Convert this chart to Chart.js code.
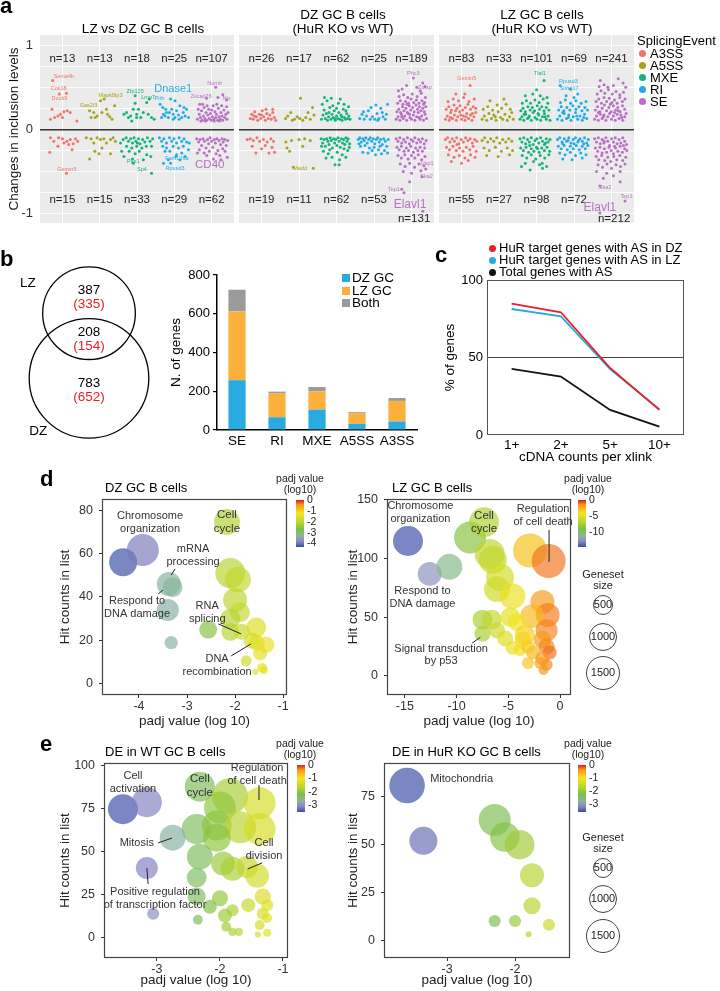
<!DOCTYPE html>
<html>
<head>
<meta charset="utf-8">
<title>HuR splicing figure</title>
<script src="https://cdn.jsdelivr.net/npm/chart.js@4.4.1/dist/chart.umd.min.js"></script>
<style>
  html, body { margin: 0; padding: 0; background: #fff; }
  body { position: relative; width: 720px; height: 991px; overflow: hidden;
         font-family: "Liberation Sans", Arial, Helvetica, sans-serif; color: #000; }
  canvas { position: absolute; }
  .t { position: absolute; white-space: nowrap; line-height: 1.08; text-align: center; }
</style>
</head>
<body>
<script>
/* global Chart */
const FONT = '"Liberation Sans", Arial, Helvetica, sans-serif';

// ---- panel a: splicing events ----
const events = ['A3SS', 'A5SS', 'MXE', 'RI', 'SE'];
const eventColors = ['#F0736B', '#A3A41A', '#13B47A', '#20ADE6', '#B86FC4'];
const aYTicks = [-1, 0, 1];

const lzdzUp = [13, 13, 18, 25, 107];
const lzdzDown = [15, 15, 33, 29, 62];
const dzKoUp = [26, 17, 62, 25, 189];
const dzKoDown = [19, 11, 62, 53, 131];
const lzKoUp = [83, 33, 101, 69, 241];
const lzKoDown = [55, 27, 98, 72, 212];

// [offset inside category, change in inclusion level]
const lzdzPts = [
  [[-0.26,0.58],[-0.08,0.42],[0.11,0.43],[-0.32,0.12],[-0.21,0.14],[-0.12,0.16],[-0.05,0.18],[0.04,0.21],[0.13,0.22],[0.21,0.2],[0.39,0.1],[-0.28,0.24],[0,0.14],
   [-0.32,-0.1],[-0.1,-0.1],[0,-0.11],[0.12,-0.14],[0.21,-0.12],[0.29,-0.17],[0.35,-0.11],[0.41,-0.14],[-0.12,-0.2],[0.17,-0.18],[0.26,-0.24],[-0.34,-0.27],[0.11,-0.52],[0.04,-0.16],[-0.23,-0.14]],
  [[-0.27,0.22],[-0.23,0.14],[-0.12,0.14],[0.02,0.34],[0.12,0.36],[0.18,0.24],[0.21,0.18],[0.27,0.15],[0.4,0.28],[-0.07,0.16],[0.06,0.2],[-0.16,0.2],[0.33,0.12],
   [-0.36,-0.1],[-0.23,-0.11],[-0.07,-0.1],[0.02,-0.12],[0.11,-0.11],[0.29,-0.12],[0.36,-0.1],[-0.13,-0.26],[-0.02,-0.29],[-0.27,-0.35],[0.29,-0.29],[0.06,-0.22],[0.18,-0.16],[-0.16,-0.16],[0.42,-0.14]],
  [[-0.35,0.18],[-0.28,0.2],[-0.17,0.16],[-0.1,0.24],[-0.05,0.4],[-0.05,0.31],[-0.01,0.18],[-0.01,0.14],[0.1,0.14],[0.26,0.32],[0.3,0.18],[0.39,0.14],[0.46,0.12],[-0.23,0.14],[0.17,0.2],[0.04,0.24],[-0.14,0.1],[0.33,0.36],
   [-0.37,-0.12],[-0.29,-0.1],[-0.23,-0.14],[-0.17,-0.11],[-0.12,-0.16],[-0.08,-0.1],[-0.03,-0.14],[0.04,-0.11],[0.08,-0.17],[0.15,-0.12],[0.21,-0.15],[0.28,-0.1],[0.35,-0.14],[0.42,-0.11],
   [-0.28,-0.2],[-0.14,-0.22],[-0.01,-0.2],[0.13,-0.22],[0.25,-0.2],[0.39,-0.2],[-0.21,-0.26],[-0.05,-0.29],[0.06,-0.26],[0.26,-0.3],[-0.35,-0.32],[-0.12,-0.35],[0.17,-0.36],[0.37,-0.32],
   [0.01,-0.16],[-0.44,-0.16],[0.39,-0.52],[-0.1,-0.4],[-0.41,-0.26]],
  [[-0.38,0.3],[-0.31,0.26],[-0.25,0.16],[-0.21,0.2],[-0.16,0.14],[-0.1,0.36],[-0.07,0.24],[-0.03,0.18],[0.02,0.14],[0.06,0.22],[0.11,0.17],[0.15,0.28],[0.2,0.14],[0.24,0.2],[0.29,0.16],[0.33,0.24],[0.38,0.14],[-0.34,0.14],[-0.23,0.24],[-0.13,0.2],[0.13,0.12],[0.26,0.26],[-0.03,0.12],[-0.29,0.18],[0.02,0.34],
   [-0.4,-0.1],[-0.34,-0.14],[-0.28,-0.11],[-0.21,-0.16],[-0.13,-0.1],[-0.07,-0.14],[-0.01,-0.11],[0.06,-0.16],[0.13,-0.1],[0.2,-0.14],[0.26,-0.11],[0.33,-0.15],[0.4,-0.16],[-0.31,-0.2],[-0.21,-0.22],[-0.03,-0.2],[0.11,-0.22],[0.24,-0.2],
   [-0.25,-0.26],[-0.12,-0.26],[0.06,-0.3],[0.2,-0.28],[-0.29,-0.4],[-0.1,-0.4],[0.04,-0.32],[0.29,-0.32],[0.15,-0.36],[-0.16,-0.36],[0.38,-0.24]],
  [[-0.38,0.12],[-0.33,0.18],[-0.3,0.14],[-0.27,0.22],[-0.25,0.11],[-0.22,0.16],[-0.2,0.26],[-0.18,0.13],[-0.15,0.2],[-0.13,0.11],[-0.1,0.17],[-0.08,0.24],[-0.06,0.13],[-0.03,0.19],[-0.01,0.11],[0.02,0.15],[0.04,0.28],[0.06,0.12],
   [0.09,0.21],[0.11,0.14],[0.13,0.18],[0.16,0.11],[0.18,0.25],[0.2,0.15],[0.23,0.12],[0.25,0.2],[0.28,0.16],[0.3,0.11],[0.33,0.23],[0.35,0.14],[0.38,0.18],[0.41,0.12],[0.44,0.2],[-0.36,0.24],[-0.24,0.3],[-0.12,0.28],
   [0,0.23],[0.14,0.3],[0.27,0.28],[0.4,0.27],[-0.29,0.1],[0.07,0.1],[0.21,0.1],[-0.17,0.1],[0.11,0.5],[0.17,0.38],[0.3,0.41],[0.4,0.35],[-0.14,0.37],[-0.32,0.3],
   [-0.4,-0.11],[-0.35,-0.15],[-0.31,-0.12],[-0.27,-0.19],[-0.23,-0.11],[-0.19,-0.14],[-0.15,-0.22],[-0.11,-0.12],[-0.08,-0.17],[-0.04,-0.1],[0,-0.14],[0.03,-0.21],[0.07,-0.12],[0.1,-0.16],[0.14,-0.11],[0.17,-0.25],[0.2,-0.13],
   [0.24,-0.18],[0.28,-0.11],[0.31,-0.15],[0.35,-0.12],[0.39,-0.19],[0.43,-0.13],[-0.33,-0.24],[-0.2,-0.28],[-0.06,-0.26],[0.12,-0.29],[0.3,-0.23],[-0.13,-0.31],[0.22,-0.31],[0.42,-0.33],[0.36,-0.26],[-0.38,-0.28],[0.05,-0.35],[0.25,-0.36]]
];

const dzKoPts = [
  [[-0.3,0.13],[-0.26,0.18],[-0.22,0.12],[-0.18,0.21],[-0.14,0.15],[-0.1,0.11],[-0.06,0.18],[-0.02,0.13],[0.02,0.22],[0.06,0.15],[0.1,0.11],[0.14,0.19],[0.18,0.13],[0.22,0.17],[0.26,0.12],[0.3,0.2],[0.34,0.14],[0.38,0.11],[-0.2,0.16],[0,0.17],[0.12,0.24],[0.3,0.24],
   [-0.38,-0.12],[-0.3,-0.11],[-0.22,-0.13],[-0.12,-0.1],[-0.05,-0.14],[0.05,-0.12],[0.15,-0.15],[0.25,-0.11],[0.32,-0.14],[-0.25,-0.2],[0.1,-0.19],[0.28,-0.21],[-0.15,-0.28],[0,-0.23],[0.35,-0.27],[0.2,-0.28]],
  [[-0.36,0.13],[-0.3,0.16],[-0.22,0.2],[-0.12,0.12],[-0.05,0.15],[0.04,0.37],[0.02,0.13],[0.1,0.11],[0.18,0.14],[0.24,0.2],[0.3,0.12],[0.36,0.26],[0.4,0.17],[-0.18,0.11],
   [-0.35,-0.15],[-0.32,-0.22],[-0.2,-0.13],[0,-0.12],[0.15,-0.11],[0.3,-0.13],[-0.25,-0.26],[0.1,-0.2],[-0.15,-0.45],[0.38,-0.46]],
  [[-0.4,0.12],[-0.36,0.17],[-0.33,0.23],[-0.3,0.13],[-0.27,0.19],[-0.24,0.11],[-0.21,0.15],[-0.18,0.26],[-0.15,0.12],[-0.12,0.18],[-0.09,0.14],[-0.06,0.22],[-0.03,0.11],[0,0.16],[0.03,0.13],[0.06,0.2],[0.09,0.12],[0.12,0.17],[0.15,0.11],[0.18,0.24],
   [0.21,0.14],[0.24,0.12],[0.27,0.19],[0.3,0.13],[0.33,0.16],[0.36,0.12],[-0.38,0.3],[-0.25,0.34],[-0.1,0.28],[0.05,0.31],[0.2,0.3],[0.32,0.27],[-0.32,0.38],[-0.14,0.37],[0.1,0.36],[-0.2,0.2],[0,0.25],[0.25,0.22],[-0.05,0.13],[0.14,0.15],
   [-0.41,-0.11],[-0.37,-0.16],[-0.33,-0.12],[-0.3,-0.2],[-0.26,-0.11],[-0.23,-0.14],[-0.2,-0.18],[-0.17,-0.1],[-0.14,-0.13],[-0.11,-0.22],[-0.08,-0.11],[-0.05,-0.16],[-0.02,-0.12],[0.01,-0.19],[0.04,-0.1],[0.07,-0.14],[0.1,-0.21],[0.13,-0.11],[0.16,-0.16],[0.19,-0.12],
   [0.22,-0.18],[0.25,-0.1],[0.28,-0.14],[0.31,-0.11],[0.35,-0.17],[-0.35,-0.26],[-0.22,-0.29],[-0.12,-0.33],[0.02,-0.27],[0.15,-0.3],[0.3,-0.25],[-0.28,-0.34],[0.08,-0.36],[0.25,-0.33],[-0.04,-0.42],[0.07,-0.42],[-0.18,-0.24],[0.2,-0.23],[-0.4,-0.2],[0.34,-0.21]],
  [[-0.38,0.13],[-0.32,0.18],[-0.26,0.12],[-0.2,0.16],[-0.15,0.22],[-0.1,0.12],[-0.04,0.15],[0.02,0.12],[0.08,0.19],[0.13,0.13],[0.18,0.25],[0.24,0.15],[0.3,0.12],[0.36,0.3],[0.33,0.18],[-0.08,0.26],[-0.28,0.21],[0.1,0.11],[0.22,0.2],[0.05,0.29],
   [-0.42,-0.12],[-0.38,-0.1],[-0.34,-0.15],[-0.3,-0.11],[-0.26,-0.13],[-0.22,-0.1],[-0.18,-0.16],[-0.14,-0.12],[-0.1,-0.1],[-0.06,-0.14],[-0.02,-0.11],[0.02,-0.17],[0.06,-0.12],[0.1,-0.1],[0.14,-0.15],[0.18,-0.12],[0.22,-0.18],[0.26,-0.11],
   [0.3,-0.14],[0.34,-0.2],[0.38,-0.12],[-0.36,-0.2],[-0.24,-0.19],[-0.12,-0.22],[0,-0.21],[0.12,-0.24],[0.28,-0.25],[-0.3,-0.27],[-0.16,-0.28],[0.04,-0.3],[0.2,-0.29],[0.36,-0.28],[-0.05,-0.25],[0.16,-0.2],[-0.4,-0.17]],
  [[-0.41,0.12],[-0.36,0.15],[-0.31,0.11],[-0.27,0.18],[-0.22,0.13],[-0.18,0.16],[-0.13,0.11],[-0.09,0.19],[-0.04,0.14],[0,0.12],[0.05,0.17],[0.09,0.11],[0.14,0.15],[0.18,0.2],[0.23,0.12],[0.27,0.16],[0.32,0.11],[0.36,0.18],[0.4,0.13],
   [-0.39,0.21],[-0.34,0.24],[-0.29,0.2],[-0.24,0.27],[-0.2,0.22],[-0.15,0.25],[-0.11,0.2],[-0.06,0.28],[-0.02,0.23],[0.03,0.26],[0.07,0.21],[0.12,0.29],[0.16,0.24],[0.21,0.27],[0.25,0.22],[0.3,0.25],[0.34,0.21],[0.38,0.27],
   [-0.37,0.31],[-0.3,0.34],[-0.23,0.3],[-0.16,0.33],[-0.08,0.31],[-0.01,0.36],[0.06,0.32],[0.13,0.35],[0.2,0.31],[0.28,0.34],[0.35,0.32],[-0.33,0.39],[-0.21,0.41],[-0.1,0.38],[0.02,0.42],[0.15,0.39],[0.26,0.43],[0.37,0.38],
   [-0.26,0.15],[-0.05,0.18],[0.2,0.14],[0.32,0.3],[-0.12,0.3],[0.05,0.61],[-0.13,0.52],[0.14,0.5],[0.36,0.51],[0.23,0.46],[-0.35,0.46],[-0.25,0.48],[0.3,0.55],
   [-0.41,-0.11],[-0.36,-0.14],[-0.31,-0.1],[-0.26,-0.16],[-0.21,-0.12],[-0.16,-0.15],[-0.11,-0.1],[-0.06,-0.17],[-0.01,-0.12],[0.04,-0.14],[0.09,-0.1],[0.14,-0.16],[0.19,-0.12],[0.24,-0.15],[0.29,-0.11],[0.34,-0.17],[0.39,-0.13],
   [-0.39,-0.21],[-0.33,-0.24],[-0.27,-0.2],[-0.2,-0.26],[-0.14,-0.22],[-0.08,-0.25],[-0.02,-0.2],[0.05,-0.27],[0.11,-0.22],[0.17,-0.25],[0.23,-0.21],[0.29,-0.26],[0.35,-0.22],
   [-0.36,-0.31],[-0.27,-0.34],[-0.18,-0.3],[-0.09,-0.35],[0,-0.31],[0.09,-0.34],[0.18,-0.3],[0.27,-0.36],[0.36,-0.32],[-0.3,-0.41],[-0.17,-0.44],[-0.05,-0.4],[0.08,-0.45],[0.2,-0.41],[0.33,-0.43],
   [-0.22,-0.5],[0,-0.52],[0.25,-0.49],[0.38,-0.47],[-0.26,-0.71],[-0.2,-0.75],[0.3,-0.97],[-0.05,-0.62],[0.28,-0.56]]
];

const lzKoPts = [
  [[-0.43,0.12],[-0.38,0.16],[-0.33,0.11],[-0.29,0.2],[-0.24,0.13],[-0.19,0.17],[-0.14,0.11],[-0.1,0.15],[-0.05,0.21],[0,0.12],[0.05,0.16],[0.09,0.11],[0.14,0.19],[0.19,0.13],[0.24,0.17],[0.28,0.11],[0.33,0.15],[0.38,0.2],
   [-0.41,0.24],[-0.34,0.27],[-0.27,0.23],[-0.2,0.29],[-0.12,0.25],[-0.04,0.28],[0.03,0.23],[0.1,0.26],[0.17,0.3],[0.24,0.24],[0.31,0.27],[0.38,0.25],[-0.36,0.33],[-0.22,0.36],[-0.08,0.34],[0.06,0.38],[0.2,0.33],[0.34,0.36],
   [-0.3,0.14],[-0.16,0.22],[0.12,0.15],[0.29,0.19],[-0.02,0.17],[0.23,0.52],[0.09,0.42],[-0.15,0.42],
   [-0.43,-0.12],[-0.37,-0.1],[-0.31,-0.15],[-0.25,-0.11],[-0.19,-0.14],[-0.13,-0.1],[-0.07,-0.17],[-0.01,-0.12],[0.05,-0.15],[0.11,-0.1],[0.17,-0.13],[0.23,-0.11],[0.29,-0.16],[0.35,-0.12],[0.41,-0.14],
   [-0.4,-0.21],[-0.32,-0.24],[-0.23,-0.2],[-0.14,-0.25],[-0.05,-0.22],[0.04,-0.26],[0.13,-0.21],[0.22,-0.24],[0.31,-0.2],[0.39,-0.26],[-0.35,-0.3],[-0.2,-0.33],[-0.06,-0.31],[0.09,-0.34],[0.24,-0.3],[0.36,-0.33],
   [-0.27,-0.38],[0,-0.4],[0.18,-0.37],[-0.12,-0.18]],
  [[-0.45,0.12],[-0.39,0.16],[-0.33,0.11],[-0.27,0.19],[-0.2,0.13],[-0.14,0.17],[-0.08,0.11],[-0.02,0.21],[0.04,0.14],[0.1,0.12],[0.16,0.18],[0.22,0.11],[0.28,0.15],[0.34,0.2],[0.38,0.12],
   [-0.42,0.24],[-0.3,0.27],[-0.17,0.23],[-0.05,0.29],[0.07,0.25],[0.19,0.3],[0.3,0.24],[-0.24,0.34],[0.13,0.36],[-0.1,0.15],
   [-0.45,-0.13],[-0.38,-0.1],[-0.3,-0.15],[-0.22,-0.11],[-0.14,-0.14],[-0.06,-0.1],[0.02,-0.16],[0.1,-0.12],[0.18,-0.15],[0.26,-0.11],[0.34,-0.14],
   [-0.4,-0.22],[-0.26,-0.25],[-0.1,-0.21],[0.06,-0.26],[0.22,-0.22],[0.36,-0.25],[-0.33,-0.31],[-0.02,-0.32],[0.28,-0.3]],
  [[-0.44,0.12],[-0.39,0.15],[-0.34,0.11],[-0.29,0.18],[-0.24,0.13],[-0.19,0.16],[-0.14,0.11],[-0.09,0.2],[-0.04,0.14],[0.01,0.12],[0.06,0.17],[0.11,0.11],[0.16,0.15],[0.21,0.19],[0.26,0.12],[0.31,0.16],[0.36,0.11],
   [-0.42,0.22],[-0.36,0.25],[-0.3,0.21],[-0.23,0.27],[-0.17,0.23],[-0.11,0.26],[-0.05,0.22],[0.02,0.28],[0.08,0.24],[0.14,0.27],[0.2,0.22],[0.26,0.26],[0.33,0.23],
   [-0.38,0.31],[-0.27,0.34],[-0.16,0.31],[-0.04,0.35],[0.07,0.32],[0.18,0.36],[0.3,0.31],[-0.3,0.4],[-0.1,0.42],[0.1,0.4],[0.28,0.38],[-0.21,0.14],[0.04,0.19],[0.23,0.15],[-0.33,0.18],[0.2,0.58],[0,0.47],
   [-0.44,-0.11],[-0.39,-0.15],[-0.34,-0.1],[-0.29,-0.17],[-0.24,-0.12],[-0.19,-0.15],[-0.14,-0.1],[-0.09,-0.18],[-0.04,-0.13],[0.01,-0.11],[0.06,-0.16],[0.11,-0.1],[0.16,-0.14],[0.21,-0.18],[0.26,-0.11],[0.31,-0.15],[0.36,-0.12],
   [-0.42,-0.22],[-0.35,-0.25],[-0.28,-0.21],[-0.21,-0.27],[-0.14,-0.23],[-0.07,-0.26],[0,-0.21],[0.07,-0.27],[0.14,-0.22],[0.21,-0.25],[0.28,-0.21],[0.35,-0.26],
   [-0.38,-0.31],[-0.26,-0.34],[-0.14,-0.3],[-0.02,-0.35],[0.1,-0.31],[0.22,-0.34],[0.33,-0.3],[-0.3,-0.4],[-0.08,-0.38],[0.15,-0.4],
   [-0.4,-0.44],[-0.17,-0.48],[0.08,-0.42],[0.16,-0.46],[0.27,-0.44],[-0.18,-0.19],[0.03,-0.23],[0.24,-0.16]],
  [[-0.44,0.12],[-0.38,0.16],[-0.32,0.11],[-0.26,0.19],[-0.2,0.13],[-0.14,0.17],[-0.08,0.11],[-0.02,0.15],[0.04,0.2],[0.1,0.12],[0.16,0.16],[0.22,0.11],[0.28,0.18],[0.34,0.13],
   [-0.41,0.23],[-0.34,0.27],[-0.27,0.22],[-0.19,0.26],[-0.11,0.23],[-0.03,0.28],[0.05,0.24],[0.13,0.27],[0.21,0.22],[0.29,0.26],[0.36,0.23],
   [-0.36,0.32],[-0.23,0.35],[-0.09,0.31],[0.05,0.34],[0.19,0.31],[0.32,0.33],[-0.37,0.52],[-0.1,0.48],[0.1,0.42],[-0.21,0.4],[0,0.38],[-0.15,0.14],[0.07,0.16],[0.26,0.14],[-0.3,0.2],
   [-0.44,-0.12],[-0.38,-0.1],[-0.32,-0.15],[-0.26,-0.11],[-0.2,-0.14],[-0.14,-0.1],[-0.08,-0.16],[-0.02,-0.12],[0.04,-0.1],[0.1,-0.15],[0.16,-0.11],[0.22,-0.14],[0.28,-0.1],[0.34,-0.16],[0.38,-0.12],
   [-0.42,-0.2],[-0.34,-0.23],[-0.26,-0.19],[-0.18,-0.24],[-0.1,-0.2],[-0.02,-0.23],[0.06,-0.19],[0.14,-0.24],[0.22,-0.2],[0.3,-0.23],[0.37,-0.19],
   [-0.38,-0.28],[-0.24,-0.3],[-0.1,-0.27],[0.04,-0.31],[0.18,-0.28],[0.32,-0.3],[-0.3,-0.35],[-0.05,-0.36],[0.22,-0.34],[-0.16,-0.13],[0,-0.17],[0.12,-0.13],[0.26,-0.17],[-0.3,-0.17]],
  [[-0.45,0.12],[-0.4,0.16],[-0.35,0.11],[-0.3,0.18],[-0.25,0.13],[-0.2,0.17],[-0.15,0.11],[-0.1,0.15],[-0.05,0.19],[0,0.12],[0.05,0.16],[0.1,0.11],[0.15,0.18],[0.2,0.13],[0.25,0.17],[0.3,0.11],[0.35,0.15],[0.39,0.19],
   [-0.43,0.23],[-0.37,0.27],[-0.31,0.21],[-0.25,0.25],[-0.19,0.29],[-0.13,0.22],[-0.07,0.26],[-0.01,0.21],[0.05,0.28],[0.11,0.23],[0.17,0.26],[0.23,0.21],[0.29,0.28],[0.35,0.24],
   [-0.41,0.33],[-0.34,0.36],[-0.27,0.31],[-0.2,0.38],[-0.13,0.33],[-0.06,0.37],[0.01,0.32],[0.08,0.35],[0.15,0.31],[0.22,0.38],[0.29,0.33],[0.36,0.36],
   [-0.38,0.42],[-0.28,0.46],[-0.18,0.43],[-0.08,0.47],[0.02,0.42],[0.12,0.45],[0.22,0.41],[0.32,0.44],[-0.33,0.51],[-0.2,0.53],[-0.1,0.5],[0.05,0.52],[0.18,0.6],[0.31,0.55],[0.38,0.5],[-0.3,0.58],
   [-0.22,0.15],[0.08,0.2],[0.27,0.14],[-0.35,0.2],[0.18,0.22],[-0.03,0.3],
   [-0.45,-0.11],[-0.4,-0.15],[-0.35,-0.1],[-0.3,-0.17],[-0.25,-0.12],[-0.2,-0.16],[-0.15,-0.1],[-0.1,-0.14],[-0.05,-0.19],[0,-0.11],[0.05,-0.15],[0.1,-0.1],[0.15,-0.17],[0.2,-0.12],[0.25,-0.16],[0.3,-0.1],[0.35,-0.14],[0.4,-0.18],
   [-0.43,-0.22],[-0.37,-0.26],[-0.31,-0.21],[-0.25,-0.28],[-0.19,-0.23],[-0.13,-0.27],[-0.07,-0.21],[-0.01,-0.25],[0.05,-0.29],[0.11,-0.22],[0.17,-0.26],[0.23,-0.2],[0.29,-0.27],[0.35,-0.23],[0.41,-0.25],
   [-0.41,-0.32],[-0.34,-0.36],[-0.26,-0.31],[-0.18,-0.37],[-0.1,-0.33],[-0.02,-0.38],[0.06,-0.32],[0.14,-0.36],[0.22,-0.31],[0.3,-0.37],[0.38,-0.33],
   [-0.36,-0.42],[-0.24,-0.45],[-0.12,-0.41],[0,-0.46],[0.12,-0.42],[0.24,-0.44],[0.36,-0.41],
   [-0.4,-0.5],[-0.13,-0.52],[0.23,-0.5],[-0.31,-0.67],[0.23,-0.62],[0.36,-0.85],[-0.31,-0.99],[0.05,-0.55],[-0.22,-0.58],[-0.2,-0.14],[0.08,-0.2],[0.32,-0.19]]
];

// gene names written next to points: [name, x, y, event, font size]
const lzdzGenes = [['Sema4b',1.04,0.63,'A3SS'],['Cox18',0.9,0.48,'A3SS'],['Dock9',0.92,0.37,'A3SS'],['Gemin5',1.12,-0.48,'A3SS'],
  ['Gas2l3',1.7,0.28,'A5SS'],['Mapk8ip3',2.29,0.4,'A5SS'],['Zfp125',2.95,0.45,'MXE'],['Lmo7',3.3,0.38,'MXE'],['Pex1',2.9,-0.38,'MXE'],['Sp4',3.13,-0.48,'MXE'],
  ['Pirb',3.6,0.37,'RI'],['Dnase1',3.97,0.48,'RI',11],['Fam126a',4.07,-0.35,'RI'],['Rpusd3',4.02,-0.46,'RI'],
  ['Numb',5.08,0.54,'SE'],['Zscan26',4.72,0.39,'SE'],['Nin',5.4,0.37,'SE'],['CD40',4.95,-0.42,'SE',11.5]];
const dzKoGenes = [['Madd',2.03,-0.46,'A5SS'],['Phc3',5.05,0.66,'SE'],['Zufsp',5.36,0.5,'SE'],['Usp1',5.42,-0.4,'SE'],['Ska2',5.4,-0.56,'SE'],['Tep1',4.53,-0.71,'SE'],['Elavl1',4.96,-0.89,'SE',12]];
const lzKoGenes = [['Gemin5',1.14,0.6,'A3SS'],['Tial1',3.09,0.66,'MXE'],['Rpusd3',3.85,0.57,'RI'],['Snhg17',3.87,0.49,'RI'],['Ska2',4.83,-0.69,'SE'],['Tep1',5.4,-0.79,'SE'],['Elavl1',4.69,-0.93,'SE',12]];

// ---- panel b ----
const vennSets = ['LZ', 'DZ'];
const vennOnly = [387, 783];
const vennOnlyHuR = [335, 652];
const vennBoth = 208;
const vennBothHuR = 154;

const barCats = ['SE', 'RI', 'MXE', 'A5SS', 'A3SS'];
const barDZ = [257, 66, 105, 32, 44];
const barLZ = [355, 122, 95, 55, 106];
const barBoth = [112, 10, 22, 5, 15];
const barTicks = [0, 200, 400, 600, 800];

// ---- panel c ----
const xlinkCats = ['1+', '2+', '5+', '10+'];
const hurDZ = [84.8, 79.2, 43.2, 16.2];
const hurLZ = [81.3, 76.6, 42.5, 16.6];
const totalAS = [42.7, 37.7, 16.2, 5.4];
const pctTicks = [0, 50, 100];

// ---- panel d ----
const dzPadj = [-4.33, -3.92, -2.17, -3.38, -3.3, -3.4, -3.33, -2.56, -2.1, -1.94, -2.0, -1.9, -2.1, -2.1, -1.86, -1.56, -1.65, -1.55, -1.35, -1.48, -1.77, -1.44, -1.4, -1.58];
const dzHits = [56, 61.6, 74.5, 46, 44.5, 34, 19, 25, 51, 48, 38.6, 33, 30, 24, 24, 26, 20, 19, 18, 14, 10.6, 7.4, 6.4, 5.5];
const dzSize = [970, 1260, 830, 710, 490, 600, 220, 400, 1110, 830, 710, 490, 490, 400, 320, 490, 320, 320, 320, 240, 150, 120, 80, 45];
const dzXTicks = [-4, -3, -2, -1];
const dzYTicks = [0, 20, 40, 60, 80];

const lzPadj = [-14.7, -12.6, -10.7, -8.7, -7.35, -6.8, -6.5, -5.8, -6.1, -4.6, -2.9, -1.1, -1.7, -1.2, -2.7, -7.5, -6.6, -7.5, -6.1, -4.8, -4.2, -5.3, -4.6, -3.4, -3.9, -3.1, -2.6, -1.3, -1.7, -1.3, -1.0, -1.7, -1.3, -1.6, -1.9, -3.1, -3.6];
const lzHits = [115, 87, 93, 118, 131, 104, 99, 84, 74, 68, 107, 98, 63, 52, 51, 48, 48, 36, 39, 50, 46, 32, 24, 35, 22, 11, 20, 39, 31, 25, 20, 15, 9.6, 5, 11, 25, 31];
const lzSize = [1110, 710, 830, 1260, 1110, 1110, 970, 970, 830, 830, 1430, 1430, 710, 710, 710, 490, 490, 320, 320, 490, 400, 320, 240, 490, 180, 180, 240, 600, 400, 320, 240, 240, 180, 120, 180, 240, 320];
const lzXTicks = [-15, -10, -5, 0];
const lzYTicks = [0, 50, 100, 150];

// ---- panel e ----
const wtPadj = [-3.54, -3.16, -2.32, -1.84, -2.0, -1.37, -2.37, -2.05, -1.68, -1.37, -2.75, -2.05, -2.32, -1.95, -1.8, -1.57, -1.41, -3.16, -2.37, -2.37, -2.0, -1.8, -1.92, -1.55, -1.32, -1.25, -1.32, -1.25, -1.37, -2.35, -1.9, -1.8, -1.7, -1.4, -1.25, -3.06, -2.16];
const wtHits = [74.5, 78.5, 87.5, 82, 75.5, 78, 63, 65, 64, 63, 58, 58, 47, 43, 40, 41, 36, 40.5, 35, 24, 23, 16, 13, 19, 24, 19, 14, 11.5, 7.5, 10.5, 6.5, 3.5, 3.5, 2, 3, 14, 18];
const wtSize = [1110, 1110, 1110, 1600, 1260, 1260, 1110, 1110, 1260, 1260, 830, 970, 830, 710, 710, 600, 710, 600, 490, 400, 320, 180, 240, 240, 320, 180, 180, 120, 120, 120, 120, 80, 80, 45, 80, 180, 240];
const wtXTicks = [-3, -2, -1];
const wtYTicks = [0, 25, 50, 75, 100];

const koPadj = [-3.59, -3.35, -2.3, -2.15, -1.93, -1.75, -1.75, -2.3, -2.0, -1.5, -1.8];
const koHits = [81, 52, 63, 54, 50, 34, 18, 10, 10, 8, 3];
const koSize = [1560, 970, 1260, 1070, 1070, 710, 360, 180, 180, 180, 45];
const koXTicks = [-3, -2];
const koYTicks = [0, 25, 50, 75];

const genesetSizes = [500, 1000, 1500];

// ---------------------------------------------------------------
Chart.defaults.font.family = FONT;
Chart.defaults.color = '#222';
Chart.defaults.animation = false;
Chart.defaults.responsive = false;
Chart.defaults.maintainAspectRatio = false;
Chart.defaults.devicePixelRatio = 1;
Chart.defaults.events = [];
Chart.defaults.layout.autoPadding = false;
Chart.defaults.plugins.legend.display = false;
Chart.defaults.plugins.tooltip.enabled = false;

const sizeToR = s => 0.45 * Math.sqrt(s);

const cmap = [[0, [227, 26, 28]], [0.1, [247, 148, 29]], [0.28, [245, 229, 27]], [0.48, [185, 212, 50]],
  [0.62, [124, 191, 69]], [0.76, [134, 184, 154]], [0.88, [139, 135, 196]], [1, [58, 78, 165]]];
function padjColor(t, a) {
  t = Math.max(0, Math.min(1, t));
  for (let i = 1; i < cmap.length; i++) {
    if (t <= cmap[i][0]) {
      const [t0, c0] = cmap[i - 1];
      const [t1, c1] = cmap[i];
      const f = (t - t0) / (t1 - t0);
      const c = c0.map((v, k) => Math.round(v + (c1[k] - v) * f));
      return `rgba(${c[0]},${c[1]},${c[2]},${a})`;
    }
  }
  return `rgba(58,78,165,${a})`;
}

// canvas placed so that the chart area lands exactly on [l,r]x[t,b]
function makeCanvas(l, t, r, b, m) {
  const c = document.createElement('canvas');
  const w = r - l + m.l + m.r, h = b - t + m.t + m.b;
  c.width = w; c.height = h;
  c.style.left = (l - m.l) + 'px';
  c.style.top = (t - m.t) + 'px';
  c.style.width = w + 'px';
  c.style.height = h + 'px';
  document.body.appendChild(c);
  return c;
}
const fit = size => s => { if (s.isHorizontal()) s.height = size; else s.width = size; };
const tickList = arr => s => { s.ticks = arr.map(v => ({ value: v })); };

function txt(x, y, html, size, align, extra) {
  const d = document.createElement('div');
  d.className = 't';
  d.innerHTML = html;
  d.style.left = x + 'px';
  d.style.top = y + 'px';
  d.style.fontSize = size + 'px';
  const tx = align === 'left' ? '0' : align === 'right' ? '-100%' : '-50%';
  d.style.transform = `translate(${tx}, -50%)`;
  if (align) d.style.textAlign = align;
  if (extra) Object.assign(d.style, extra);
  document.body.appendChild(d);
  return d;
}

function framePlugin(o) {
  return {
    id: 'frame',
    beforeDraw(chart) {
      if (!o.fill) return;
      const a = chart.chartArea, ctx = chart.ctx;
      ctx.save(); ctx.fillStyle = o.fill; ctx.fillRect(a.left, a.top, a.width, a.height); ctx.restore();
    },
    afterDatasetsDraw(chart) {
      if (!o.stroke) return;
      const a = chart.chartArea, ctx = chart.ctx;
      ctx.save(); ctx.strokeStyle = o.stroke; ctx.lineWidth = o.width || 1;
      ctx.strokeRect(a.left + 0.5, a.top + 0.5, a.width - 1, a.height - 1); ctx.restore();
    }
  };
}

function notesPlugin(items) {
  return {
    id: 'notes',
    afterDatasetsDraw(chart) {
      const ctx = chart.ctx, xs = chart.scales.x, ys = chart.scales.y;
      ctx.save();
      items.forEach(n => {
        if (n.line) {
          ctx.beginPath();
          ctx.strokeStyle = '#222';
          ctx.lineWidth = 1;
          ctx.moveTo(xs.getPixelForValue(n.line[0]), ys.getPixelForValue(n.line[1]));
          ctx.lineTo(xs.getPixelForValue(n.line[2]), ys.getPixelForValue(n.line[3]));
          ctx.stroke();
        }
        if (n.t !== undefined) {
          const lines = Array.isArray(n.t) ? n.t : [n.t];
          const s = n.s || 11, lh = s * 1.18;
          ctx.font = `${s}px ${FONT}`;
          ctx.fillStyle = n.c || '#333';
          ctx.textAlign = n.a || 'center';
          ctx.textBaseline = 'middle';
          const px = xs.getPixelForValue(n.x), py = ys.getPixelForValue(n.y);
          lines.forEach((ln, i) => ctx.fillText(ln, px, py + (i - (lines.length - 1) / 2) * lh));
        }
      });
      ctx.restore();
    }
  };
}

// ---------------- panel a ----------------
const gridSteps = [];
for (let v = -1; v <= 1.0001; v += 0.25) gridSteps.push(Math.round(v * 100) / 100);

function splicingPanel(l, r, pts, nUp, nDown, genes, first) {
  const m = { l: first ? 40 : 0, r: 0, t: 18, b: 18 };
  const c = makeCanvas(l, 35, r, 223, m);
  const notes = [];
  events.forEach((e, i) => {
    notes.push({ t: 'n=' + nUp[i], x: i + 1, y: 0.84, s: 11.5, c: '#222' });
    const low = !first && i === 4;
    notes.push({ t: 'n=' + nDown[i], x: i + 1 + (low ? 0.07 : 0), y: low ? -1.06 : -0.84, s: 11.5, c: '#222' });
  });
  genes.forEach(g => notes.push({ t: g[0], x: g[1], y: g[2], s: g[4] || 5.5, c: eventColors[events.indexOf(g[3])] }));
  new Chart(c, {
    type: 'scatter',
    data: {
      datasets: events.map((e, i) => ({
        label: e,
        data: pts[i].map(p => ({ x: i + 1 + p[0], y: p[1] })),
        backgroundColor: eventColors[i],
        pointRadius: 1.5,
        borderWidth: 0
      }))
    },
    options: {
      layout: { padding: { top: m.t, right: 0, left: 0, bottom: 0 } },
      scales: {
        x: {
          type: 'linear', min: 0.4, max: 5.6,
          afterFit: fit(m.b), afterBuildTicks: tickList([1, 2, 3, 4, 5]),
          ticks: { display: false },
          grid: { color: '#fff', lineWidth: 1, drawTicks: false },
          border: { display: false }
        },
        y: {
          min: -1.11, max: 1.12,
          afterFit: fit(m.l), afterBuildTicks: tickList(gridSteps),
          ticks: { display: first, autoSkip: false, font: { size: 13 }, color: '#333', padding: 7,
                   callback: v => aYTicks.includes(v) ? String(v) : '' },
          title: { display: first, text: 'Changes in inclusion levels', font: { size: 13.5 }, color: '#111', padding: { top: 6, bottom: 0 } },
          grid: { color: ctx => ctx.tick && ctx.tick.value === 0 ? '#333' : '#fff',
                  lineWidth: ctx => ctx.tick && ctx.tick.value === 0 ? 1.6 : 0.8, drawTicks: false },
          border: { display: false }
        }
      }
    },
    plugins: [framePlugin({ fill: '#EBEBEB' }), notesPlugin(notes)]
  });
}

splicingPanel(40, 234, lzdzPts, lzdzUp, lzdzDown, lzdzGenes, true);
splicingPanel(239, 434, dzKoPts, dzKoUp, dzKoDown, dzKoGenes, false);
splicingPanel(439, 634, lzKoPts, lzKoUp, lzKoDown, lzKoGenes, false);

txt(143, 29, 'LZ vs DZ GC B cells', 13.5);
txt(343, 22, 'DZ GC B cells<br>(HuR KO vs WT)', 13.5, null, { lineHeight: '14px' });
txt(542, 22, 'LZ GC B cells<br>(HuR KO vs WT)', 13.5, null, { lineHeight: '14px' });
txt(637, 41, 'SplicingEvent', 13, 'left');
events.forEach((e, i) => {
  const y = 53.5 + i * 12;
  const dot = document.createElement('div');
  Object.assign(dot.style, { position: 'absolute', left: '639px', top: (y - 3.5) + 'px', width: '7px', height: '7px',
    borderRadius: '50%', background: eventColors[i] });
  document.body.appendChild(dot);
  txt(650, y, e, 13, 'left');
});

// ---------------- panel b: venn ----------------
(function venn() {
  const k = 1.9;
  const totals = [vennOnly[0] + vennBoth, vennOnly[1] + vennBoth];
  const r1 = k * Math.sqrt(totals[0]), r2 = k * Math.sqrt(totals[1]);
  const target = Math.PI * k * k * vennBoth;
  const lens = d => {
    const a1 = Math.acos((d * d + r1 * r1 - r2 * r2) / (2 * d * r1));
    const a2 = Math.acos((d * d + r2 * r2 - r1 * r1) / (2 * d * r2));
    return r1 * r1 * a1 + r2 * r2 * a2 - 0.5 * Math.sqrt((-d + r1 + r2) * (d + r1 - r2) * (d - r1 + r2) * (d + r1 + r2));
  };
  let lo = r2 - r1 + 0.01, hi = r1 + r2 - 0.01;
  for (let i = 0; i < 60; i++) { const mid = (lo + hi) / 2; if (lens(mid) > target) lo = mid; else hi = mid; }
  const d = (lo + hi) / 2;
  const W = 138, H = 189;
  const c = makeCanvas(20, 258, 20 + W, 258 + H, { l: 0, r: 0, t: 0, b: 0 });
  const cx = W / 2;
  const top = (H - (r1 + d + r2)) / 2;
  const cy1 = top + r1, cy2 = cy1 + d;
  const yA = ((cy1 - r1) + (cy2 - r2)) / 2 + 5;
  const yB = ((cy2 - r2) + (cy1 + r1)) / 2;
  const yC = ((cy1 + r1) + (cy2 + r2)) / 2 - 9;
  const red = '#E8202A';
  const notes = [
    { t: String(vennOnly[0]), x: cx, y: yA - 7, s: 13.5, c: '#000' }, { t: '(' + vennOnlyHuR[0] + ')', x: cx, y: yA + 7, s: 13.5, c: red },
    { t: String(vennBoth), x: cx, y: yB - 7, s: 13.5, c: '#000' }, { t: '(' + vennBothHuR + ')', x: cx, y: yB + 7, s: 13.5, c: red },
    { t: String(vennOnly[1]), x: cx, y: yC - 7, s: 13.5, c: '#000' }, { t: '(' + vennOnlyHuR[1] + ')', x: cx, y: yC + 7, s: 13.5, c: red },
    { t: vennSets[0], x: cx - 1.32 * r1, y: cy1 - 0.65 * r1, s: 13.5, c: '#000' },
    { t: vennSets[1], x: cx - 0.85 * r2, y: cy2 + 0.88 * r2, s: 13.5, c: '#000' }
  ];
  new Chart(c, {
    type: 'scatter',
    data: { datasets: [{
      data: [{ x: cx, y: cy1 }, { x: cx, y: cy2 }],
      pointRadius: [r1, r2], backgroundColor: 'rgba(0,0,0,0)', borderColor: '#000', borderWidth: 1.3, clip: false
    }] },
    options: {
      layout: { padding: 0, autoPadding: false },
      scales: { x: { display: false, min: 0, max: W }, y: { display: false, min: 0, max: H, reverse: true } }
    },
    plugins: [notesPlugin(notes)]
  });
})();

// ---------------- panel b: bars ----------------
{
  const m = { l: 49, r: 6, t: 16, b: 22 };
  const c = makeCanvas(217, 275, 417, 430, m);
  new Chart(c, {
    type: 'bar',
    data: {
      labels: barCats,
      datasets: [
        { label: 'DZ GC', data: barDZ, backgroundColor: '#29ABE2' },
        { label: 'LZ GC', data: barLZ, backgroundColor: '#FBB03B' },
        { label: 'Both', data: barBoth, backgroundColor: '#9B9B9B' }
      ]
    },
    options: {
      layout: { padding: { top: m.t, right: m.r, left: 0, bottom: 0 } },
      datasets: { bar: { barPercentage: 0.43, categoryPercentage: 1, borderWidth: 0 } },
      scales: {
        x: { stacked: true, afterFit: fit(m.b), grid: { display: false, drawTicks: false }, border: { color: '#000', width: 1.5 },
             ticks: { font: { size: 13.5 }, color: '#000', padding: 3, maxRotation: 0, minRotation: 0, autoSkip: false } },
        y: { stacked: true, min: 0, max: 800, afterFit: fit(m.l), afterBuildTicks: tickList(barTicks),
             ticks: { font: { size: 13 }, color: '#000', padding: 3 },
             grid: { drawOnChartArea: false, tickLength: 4, color: '#000', lineWidth: 1.2 },
             border: { color: '#000', width: 1.5 },
             title: { display: true, text: 'N. of genes', font: { size: 13.5 }, color: '#000', padding: 0 } }
      }
    }
  });
  [['DZ GC', '#29ABE2'], ['LZ GC', '#FBB03B'], ['Both', '#9B9B9B']].forEach((e, i) => {
    const y = 278 + i * 12.5;
    const sq = document.createElement('div');
    Object.assign(sq.style, { position: 'absolute', left: '342px', top: (y - 4) + 'px', width: '8px', height: '8px', background: e[1] });
    document.body.appendChild(sq);
    txt(352, y, e[0], 13.5, 'left');
  });
}

// ---------------- panel c ----------------
{
  const m = { l: 45, r: 10, t: 16, b: 30 };
  const c = makeCanvas(487, 280, 684, 435, m);
  new Chart(c, {
    type: 'line',
    data: {
      labels: xlinkCats,
      datasets: [
        { label: 'HuR target genes with AS in DZ', data: hurDZ, borderColor: '#E8202A' },
        { label: 'HuR target genes with AS in LZ', data: hurLZ, borderColor: '#29A9E0' },
        { label: 'Total genes with AS', data: totalAS, borderColor: '#111' }
      ]
    },
    options: {
      layout: { padding: { top: m.t, right: m.r, left: 0, bottom: 0 } },
      datasets: { line: { borderWidth: 1.8, pointRadius: 0, tension: 0, fill: false } },
      scales: {
        x: { offset: true, afterFit: fit(m.b), grid: { display: false, drawTicks: false }, border: { display: false },
             ticks: { font: { size: 13.5 }, color: '#000', padding: 2, maxRotation: 0, autoSkip: false },
             title: { display: true, text: 'cDNA counts per xlink', font: { size: 13.5 }, color: '#000', padding: 0 } },
        y: { min: 0, max: 100, afterFit: fit(m.l), afterBuildTicks: tickList(pctTicks),
             ticks: { font: { size: 13 }, color: '#000', padding: 4 },
             grid: { color: ctx => ctx.tick && ctx.tick.value === 50 ? '#444' : 'rgba(0,0,0,0)', lineWidth: 1, drawTicks: false },
             border: { display: false },
             title: { display: true, text: '% of genes', font: { size: 13.5 }, color: '#000', padding: 0 } }
      }
    },
    plugins: [framePlugin({ stroke: '#555', width: 1 })]
  });
  [['HuR target genes with AS in DZ', '#E8202A'], ['HuR target genes with AS in LZ', '#29A9E0'], ['Total genes with AS', '#111']].forEach((e, i) => {
    const y = 248 + i * 12;
    const dot = document.createElement('div');
    Object.assign(dot.style, { position: 'absolute', left: '489px', top: (y - 3.5) + 'px', width: '7px', height: '7px', borderRadius: '50%', background: e[1] });
    document.body.appendChild(dot);
    txt(499, y, e[0], 13, 'left');
  });
}

// ---------------- panels d, e ----------------
function bubblePanel(o) {
  const c = makeCanvas(o.l, o.t, o.r, o.b, o.m);
  const lo = Math.min(...o.padj);
  new Chart(c, {
    type: 'bubble',
    data: { datasets: [{
      data: o.padj.map((x, i) => ({ x, y: o.hits[i], r: sizeToR(o.sizes[i]) })),
      backgroundColor: o.padj.map(v => padjColor(v / lo, 0.68)),
      borderWidth: 0
    }] },
    options: {
      layout: { padding: { top: o.m.t, right: o.m.r, left: 0, bottom: 0 }, autoPadding: false },
      scales: {
        x: { type: 'linear', min: o.xMin, max: o.xMax, afterFit: fit(o.m.b), afterBuildTicks: tickList(o.xTicks),
             ticks: { font: { size: 12.5 }, color: '#333', padding: 1 },
             grid: { drawOnChartArea: false, tickLength: 3, color: '#333' }, border: { display: false },
             title: { display: true, text: 'padj value (log 10)', font: { size: 13.5 }, color: '#222', padding: 0 } },
        y: { type: 'linear', min: o.yMin, max: o.yMax, afterFit: fit(o.m.l), afterBuildTicks: tickList(o.yTicks),
             ticks: { font: { size: 12.5 }, color: '#333', padding: 6 },
             grid: { drawOnChartArea: false, tickLength: 3, color: '#333' }, border: { display: false },
             title: { display: true, text: 'Hit counts in list', font: { size: 13.5 }, color: '#222', padding: 0 } }
      }
    },
    plugins: [framePlugin({ stroke: '#444', width: 1.2 }), notesPlugin(o.notes)]
  });
  return lo;
}

function colorbar(x, top, h, lo, ticks, hx) {
  const bar = document.createElement('div');
  const stops = cmap.map(s => `rgb(${s[1].join(',')}) ${(s[0] * 100).toFixed(0)}%`).join(',');
  Object.assign(bar.style, { position: 'absolute', left: x + 'px', top: top + 'px', width: '8px', height: h + 'px',
    background: `linear-gradient(to bottom, ${stops})` });
  document.body.appendChild(bar);
  ticks.forEach(v => txt(x + 11, top + (v / lo) * h, String(v), 10.5, 'left', { color: '#222' }));
  txt(hx, top - 16, 'padj value<br>(log10)', 10.5, null, { lineHeight: '11px', color: '#222' });
}

function genesetLegend(x, ys, headY) {
  txt(x, headY, 'Geneset<br>size', 11, null, { lineHeight: '11px', color: '#222' });
  genesetSizes.forEach((s, i) => {
    const r = sizeToR(s);
    const d = document.createElement('div');
    Object.assign(d.style, { position: 'absolute', left: (x - r) + 'px', top: (ys[i] - r) + 'px', width: (2 * r) + 'px', height: (2 * r) + 'px',
      border: '1px solid #444', borderRadius: '50%', boxSizing: 'border-box' });
    document.body.appendChild(d);
    txt(x, ys[i], String(s), 11, null, { color: '#222' });
  });
}

const dzLo = bubblePanel({
  l: 102, t: 499, r: 287, b: 695, m: { l: 45, r: 10, t: 16, b: 34 },
  padj: dzPadj, hits: dzHits, sizes: dzSize, xTicks: dzXTicks, yTicks: dzYTicks,
  xMin: -4.77, xMax: -0.92, yMin: -5.1, yMax: 85.1,
  notes: [
    { t: ['Chromosome', 'organization'], x: -3.77, y: 74.5 },
    { t: ['Cell', 'cycle'], x: -2.17, y: 74.5, s: 11.5 },
    { t: ['mRNA', 'processing'], x: -2.875, y: 59.3, line: [-3.25, 52.9, -3.33, 50.1] },
    { t: ['Respond to', 'DNA damage'], x: -4.04, y: 35, line: [-3.6, 41.4, -3.5, 43.2] },
    { t: ['RNA', 'splicing'], x: -2.58, y: 33, line: [-2.35, 27.6, -1.875, 23] },
    { t: ['DNA', 'recombination'], x: -2.375, y: 8.3, line: [-2.08, 12.9, -1.67, 18.4] }
  ]
});
const lzLo = bubblePanel({
  l: 387, t: 499, r: 571, b: 695, m: { l: 42, r: 10, t: 16, b: 34 },
  padj: lzPadj, hits: lzHits, sizes: lzSize, xTicks: lzXTicks, yTicks: lzYTicks,
  xMin: -16.73, xMax: 1.06, yMin: -16.2, yMax: 150.8,
  notes: [
    { t: ['Chromosome', 'organization'], x: -13.5, y: 139 },
    { t: ['Cell', 'cycle'], x: -7.35, y: 131, s: 11.5 },
    { t: ['Regulation', 'of cell death'], x: -1.64, y: 136.4, line: [-1.06, 124.5, -1.06, 97.2] },
    { t: ['Respond to', 'DNA damage'], x: -13.3, y: 66.5 },
    { t: ['Signal transduction', 'by p53'], x: -11.5, y: 17.9, line: [-8.5, 28, -7.7, 33] }
  ]
});
const wtLo = bubblePanel({
  l: 104, t: 763, r: 288, b: 958, m: { l: 47, r: 10, t: 16, b: 30 },
  padj: wtPadj, hits: wtHits, sizes: wtSize, xTicks: wtXTicks, yTicks: wtYTicks,
  xMin: -3.84, xMax: -0.92, yMin: -11.6, yMax: 101.2,
  notes: [
    { t: ['Cell', 'activation'], x: -3.38, y: 90 },
    { t: ['Cell', 'cycle'], x: -2.32, y: 87.9, s: 11.5 },
    { t: ['Regulation', 'of cell death'], x: -1.41, y: 94.8, line: [-1.38, 88.4, -1.38, 79.8] },
    { t: 'Mitosis', x: -3.32, y: 55, line: [-2.98, 55, -2.76, 57.8] },
    { t: ['Cell', 'division'], x: -1.3, y: 51.4, line: [-1.33, 43.4, -1.56, 39.9] },
    { t: ['Positive regulation', 'of transcription factor'], x: -3.03, y: 23, line: [-3.16, 40.5, -3.14, 31.2] }
  ]
});
const koLo = bubblePanel({
  l: 384, t: 763, r: 570, b: 958, m: { l: 39, r: 10, t: 16, b: 30 },
  padj: koPadj, hits: koHits, sizes: koSize, xTicks: koXTicks, yTicks: koYTicks,
  xMin: -3.93, xMax: -1.19, yMin: -9.4, yMax: 92.8,
  notes: [{ t: 'Mitochondria', x: -3.25, y: 84.4, a: 'left' }]
});

colorbar(296, 500, 47, dzLo, [0, -1, -2, -3, -4], 300);
colorbar(578, 500, 47, lzLo, [0, -5, -10], 588);
colorbar(297, 765, 47, wtLo, [0, -1, -2, -3], 300);
colorbar(578, 765, 47, koLo, [0, -1, -2, -3], 588);
genesetLegend(603, [605, 637, 673], 580);
genesetLegend(603, [868, 899, 936], 843);

txt(105, 488, 'DZ GC B cells', 13, 'left');
txt(392, 488, 'LZ GC B cells', 13, 'left');
txt(105, 752, 'DE in WT GC B cells', 13, 'left');
txt(392, 752, 'DE in HuR KO GC B cells', 13, 'left');

// panel letters
[['a', 0, 5.5], ['b', 0, 259], ['c', 435, 255], ['d', 40, 479], ['e', 40, 744]].forEach(p =>
  txt(p[1], p[2], p[0], 22, 'left', { fontWeight: 'bold' }));
</script>
</body>
</html>
